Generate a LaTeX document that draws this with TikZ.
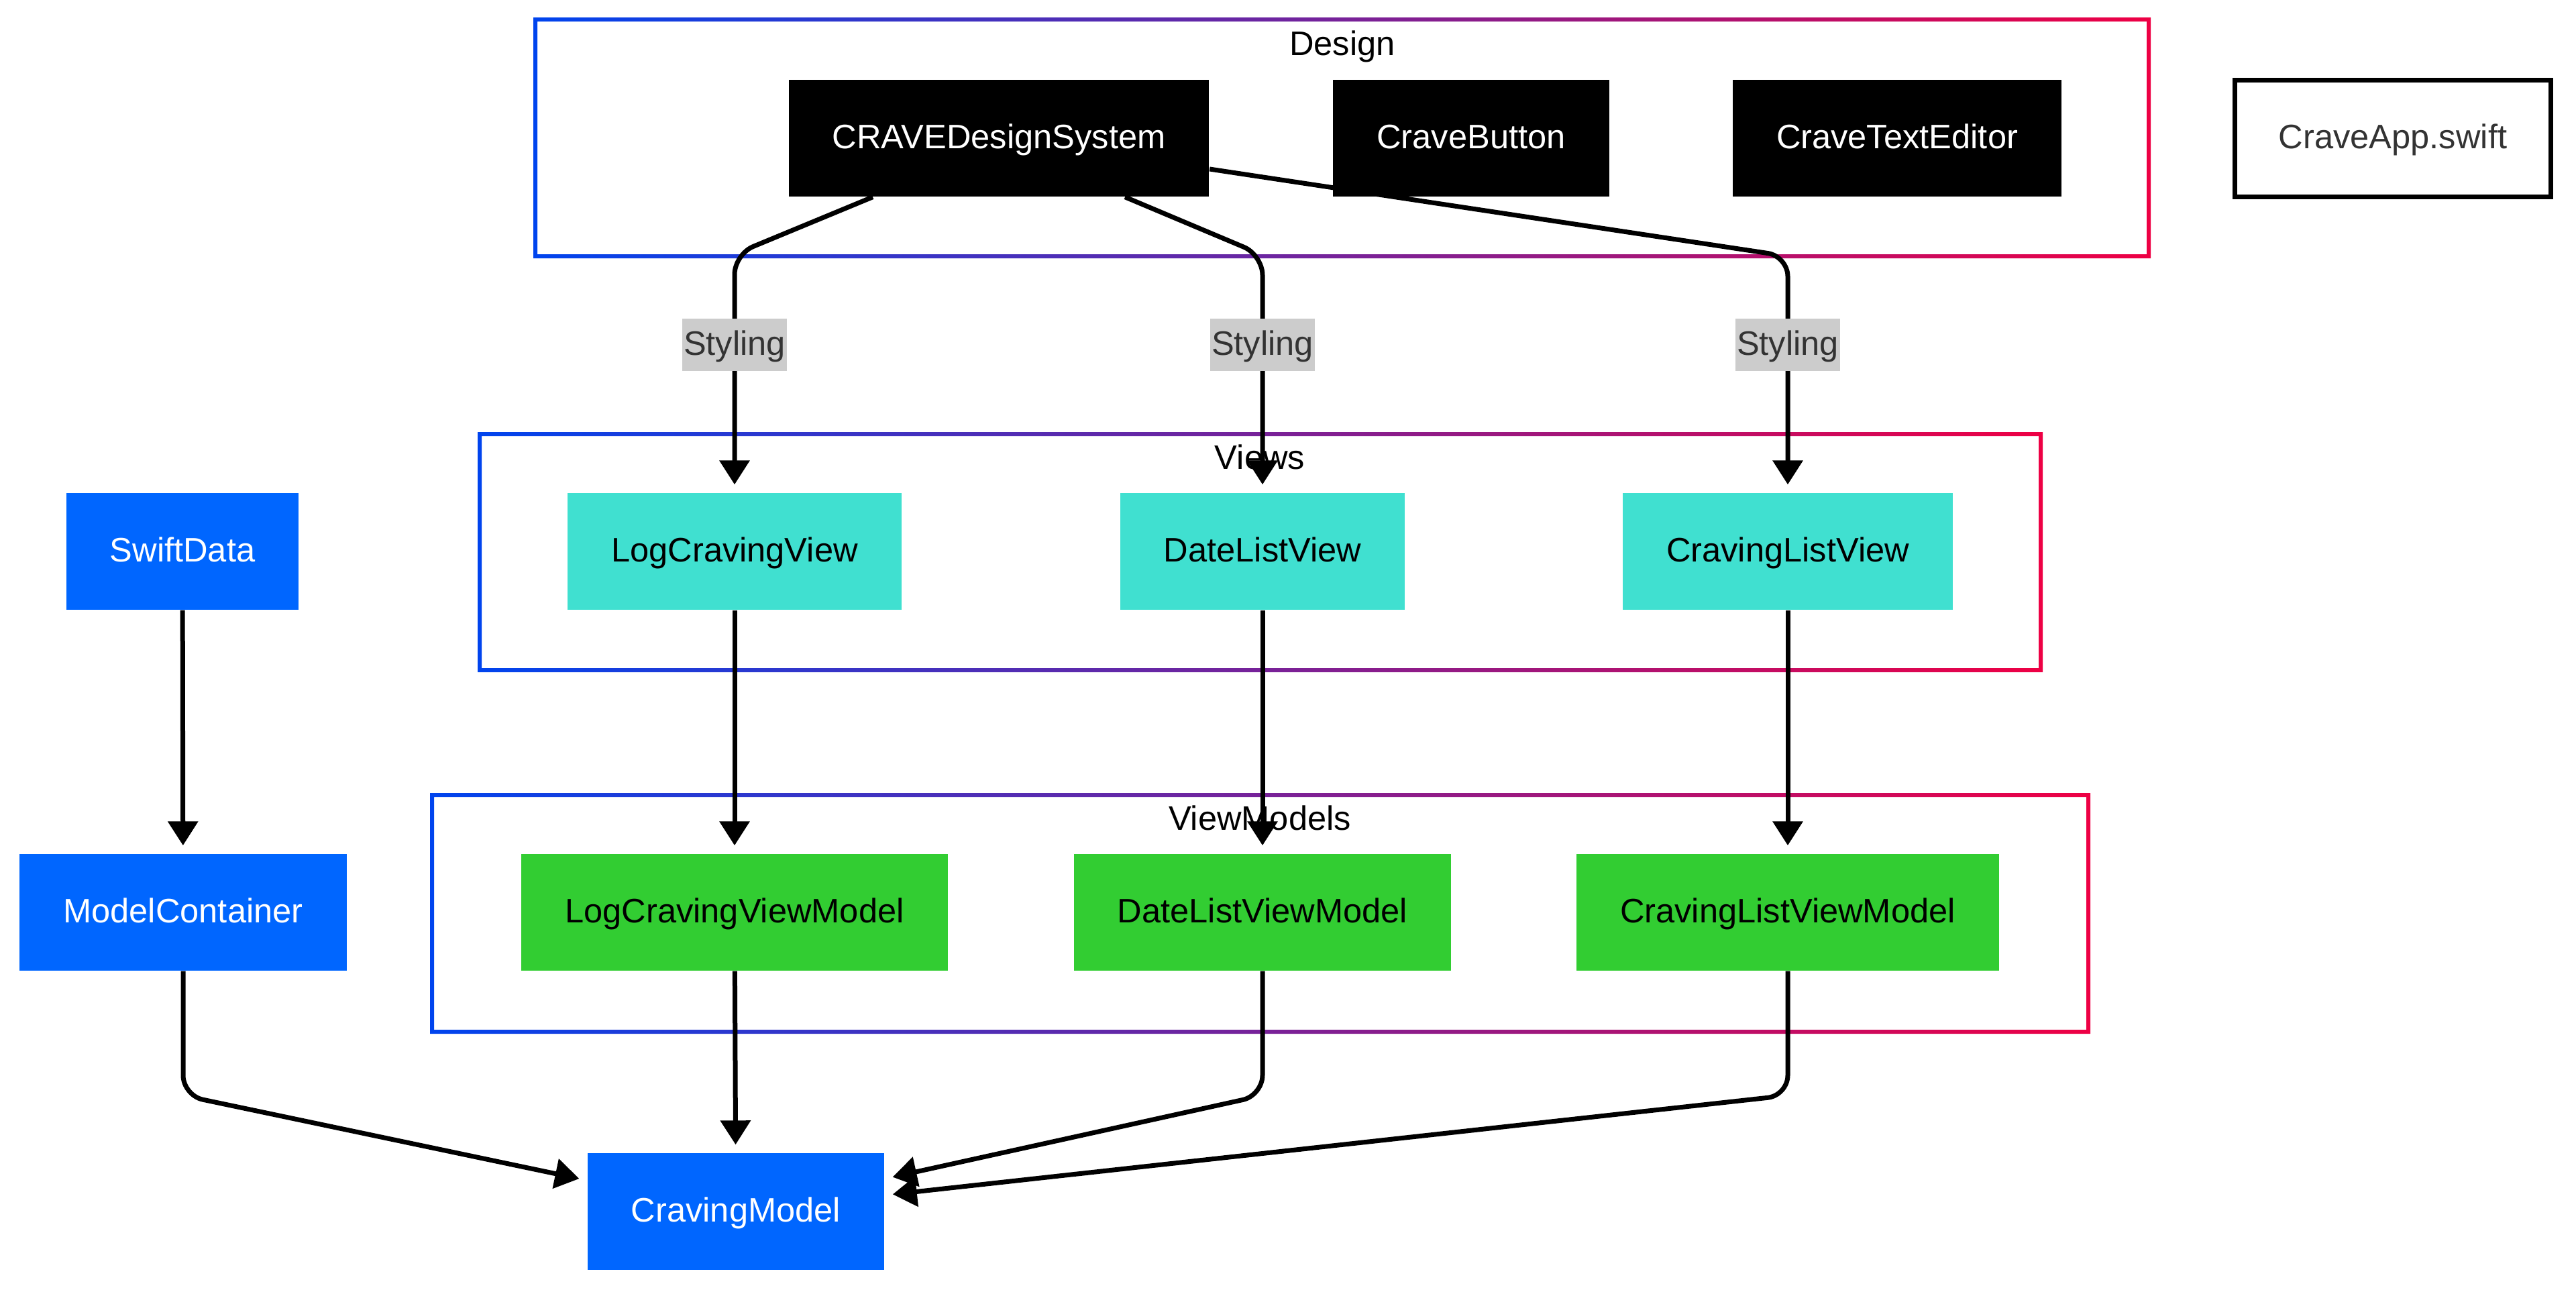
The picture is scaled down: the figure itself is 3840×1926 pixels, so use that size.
\documentclass[tikz,border=0pt]{standalone}
\usepackage{fontspec}
\setmainfont{Liberation Sans}
\usetikzlibrary{arrows.meta}

\pgfdeclarelayer{frames}
\pgfdeclarelayer{edges}
\pgfsetlayers{frames,edges,main}

\definecolor{swiftblue}{RGB}{0,102,255}
\definecolor{viewcyan}{RGB}{64,224,208}
\definecolor{vmgreen}{RGB}{50,205,50}
\definecolor{frameleft}{RGB}{0,68,238}
\definecolor{frameright}{RGB}{238,0,68}
\definecolor{labelgray}{RGB}{204,204,204}
\definecolor{textgray}{RGB}{51,51,51}

\tikzset{
	box/.style={rectangle, minimum height=17.4mm, inner xsep=6.5mm, inner ysep=0pt},
	design/.style={box, fill=black, text=white},
	view/.style={box, fill=viewcyan},
	vm/.style={box, fill=vmgreen},
	data/.style={box, fill=swiftblue, text=white},
	app/.style={box, draw=black, line width=0.7mm, fill=white, text=textgray},
	styling/.style={fill=labelgray, text=textgray, inner xsep=0.2mm, inner ysep=0pt, minimum height=7.8mm},
	flow/.style={line width=0.7mm, rounded corners=3mm, shorten >=1.2mm, -{Triangle[length=3.6mm, width=4.4mm]}},
	frame/.style={even odd rule, left color=frameleft, right color=frameright},
}

\begin{document}
\begin{tikzpicture}[x=0.1mm, y=-0.1mm, font=\fontsize{14.4}{17.3}\selectfont,
		every node/.style={text height=4.3mm, text depth=1.3mm}]
		\useasboundingbox (0,0) rectangle (3840,1926);

		% groups
		\begin{pgfonlayer}{frames}
			\shade[frame] (795,26) rectangle (3206,385) (801,32) rectangle (3200,379);
			\shade[frame] (712,644) rectangle (3045,1002) (718,650) rectangle (3039,996);
			\shade[frame] (641,1182) rectangle (3116,1541) (647,1188) rectangle (3110,1535);
		\end{pgfonlayer}
		\node (designlbl) at (2001,67) {Design};
		\node (viewslbl) at (1878,684) {Views};
		\node (vmlbl) at (1878,1222) {ViewModels};

		\node[design] (crave) at (1489,206) {CRAVEDesignSystem};
		\node[design] (button) at (2193,206) {CraveButton};
		\node[design] (editor) at (2828,206) {CraveTextEditor};
		\node[app] (app) at (3567,206) {CraveApp.swift};

		\node[data] (swift) at (272,822) {SwiftData};
		\node[view] (logview) at (1095,822) {LogCravingView};
		\node[view] (dateview) at (1882,822) {DateListView};
		\node[view] (listview) at (2665,822) {CravingListView};

		\node[data] (container) at (273,1360) {ModelContainer};
		\node[vm] (logvm) at (1095,1360) {LogCravingViewModel};
		\node[vm] (datevm) at (1882,1360) {DateListViewModel};
		\node[vm] (listvm) at (2665,1360) {CravingListViewModel};

		\node[data] (model) at (1097,1806) {CravingModel};

		\node[styling] (sty1) at (1095,514) {Styling};
		\node[styling] (sty2) at (1882,514) {Styling};
		\node[styling] (sty3) at (2665,514) {Styling};

		\begin{pgfonlayer}{edges}
			\draw[flow] ([xshift=-18.8mm]crave.south) -- (1095,379) -- (logview);
			\draw[flow] ([xshift=18.8mm]crave.south) -- (1882,380) -- (dateview);
			\draw[flow] ([yshift=-4.6mm]crave.east) -- (2665,382) -- (listview);

			\draw[flow] (logview) -- (logvm);
			\draw[flow] (dateview) -- (datevm);
			\draw[flow] (listview) -- (listvm);
			\draw[flow] (swift) -- (container);

			\draw[flow] (container) -- (273,1633) -- (model);
			\draw[flow] (logvm) -- (model);
			\draw[flow] (datevm) -- (1882,1633) -- (model);
			\draw[flow] (listvm) -- (2665,1633) -- (model);
		\end{pgfonlayer}
	\end{tikzpicture}
\end{document}
